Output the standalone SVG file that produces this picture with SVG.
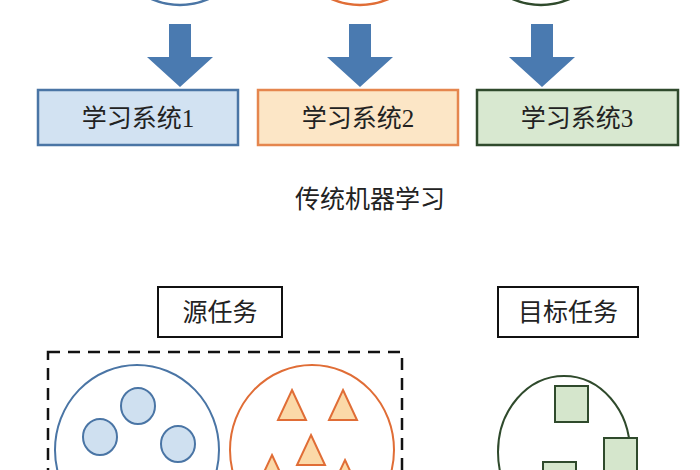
<svg xmlns="http://www.w3.org/2000/svg" width="700" height="470" viewBox="0 0 700 470">
<style>
text{font-family:"Liberation Serif","Noto Sans CJK SC",serif;font-size:25px;fill:#222;text-anchor:middle}
.arr{fill:#4a7ab0}
.sc{fill:#cfe0f0;stroke:#4a75a5;stroke-width:2}
.tr{fill:#fbd9a8;stroke:#e06d36;stroke-width:2}
.sq{fill:#d5e6cc;stroke:#2f4a2c;stroke-width:2}
</style>
<rect width="700" height="470" fill="#fff"/>
<g id="top-circles" fill="none" stroke-width="2.5">
<ellipse cx="180" cy="-75" rx="75" ry="80" stroke="#4a75a5"/>
<ellipse cx="360" cy="-75" rx="75" ry="80" stroke="#e06d36"/>
<ellipse cx="541" cy="-75" rx="75" ry="80" stroke="#2f4a2c"/>
</g>
<g id="connectors">
<path class="arr" d="M169 24h22v33h22l-33 30l-33-30h22z"/>
<path class="arr" d="M349 24h22v33h22l-33 30l-33-30h22z"/>
<path class="arr" d="M531 24h22v33h22l-33 30l-33-30h22z"/>
</g>
<g id="sys1"><rect x="38" y="90" width="200" height="55" fill="#d2e2f2" stroke="#4a75a5" stroke-width="2.5"/><text x="138" y="127">学习系统1</text></g>
<g id="sys2"><rect x="258" y="90" width="200" height="55" fill="#fce6c6" stroke="#e5864e" stroke-width="2.5"/><text x="358" y="127">学习系统2</text></g>
<g id="sys3"><rect x="477" y="90" width="201" height="55" fill="#d8e8d0" stroke="#2f4a2c" stroke-width="2.5"/><text x="577" y="127">学习系统3</text></g>
<g id="caption"><text x="370" y="208">传统机器学习</text></g>
<g id="source"><rect x="158" y="287" width="124" height="50" fill="#fff" stroke="#111" stroke-width="2"/><text x="220" y="321">源任务</text></g>
<g id="target"><rect x="498" y="287" width="140" height="50" fill="#fff" stroke="#111" stroke-width="2"/><text x="568" y="321">目标任务</text></g>
<g id="dashed"><rect x="48" y="352" width="354" height="140" fill="none" stroke="#111" stroke-width="2.5" stroke-dasharray="12 8"/></g>
<g id="src-domain1">
<ellipse cx="137" cy="450" rx="82" ry="85" fill="none" stroke="#4a75a5" stroke-width="2"/>
<ellipse class="sc" cx="100" cy="437" rx="17" ry="18"/>
<ellipse class="sc" cx="138" cy="406" rx="17" ry="18"/>
<ellipse class="sc" cx="178" cy="444" rx="17" ry="18"/>
</g>
<g id="src-domain2">
<ellipse cx="312" cy="450" rx="82" ry="85" fill="none" stroke="#e06d36" stroke-width="2"/>
<polygon class="tr" points="292,390 306,420 278,420"/>
<polygon class="tr" points="343,390 357,420 329,420"/>
<polygon class="tr" points="311,435 325,465 297,465"/>
<polygon class="tr" points="272,455 286,485 258,485"/>
<polygon class="tr" points="345,460 359,490 331,490"/>
</g>
<g id="tgt-domain">
<ellipse cx="564" cy="452" rx="66" ry="76" fill="none" stroke="#2f4a2c" stroke-width="2"/>
<rect class="sq" x="555" y="386" width="33" height="36"/>
<rect class="sq" x="604" y="438" width="33" height="36"/>
<rect class="sq" x="543" y="462" width="33" height="36"/>
</g>
</svg>
